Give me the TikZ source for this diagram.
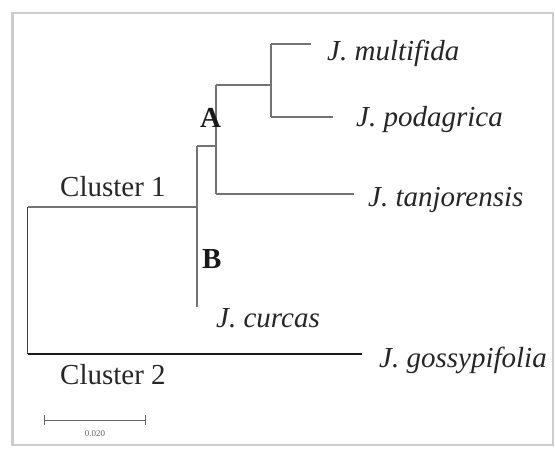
\documentclass[tikz,border=0pt]{standalone}
\usepackage{fontspec}
\setmainfont{Liberation Serif}
\begin{document}
\begin{tikzpicture}[x=1pt,y=-1pt,
  branch/.style={draw=black!55, line width=1.4pt},
  rootline/.style={draw=black!75, line width=1.6pt},
  outgroup/.style={draw=black!90, line width=2.6pt},
  species/.style={font=\fontsize{29}{32}\selectfont\itshape, text=black!85, anchor=base west, inner sep=0},
  clabel/.style={font=\fontsize{29}{32}\selectfont, text=black!85, anchor=base west, inner sep=0},
  nlabel/.style={font=\fontsize{29}{32}\selectfont\bfseries, text=black!90, anchor=base west, inner sep=0},
  scalelabel/.style={font=\fontsize{9}{10}\selectfont, text=black!60, inner sep=0}]
\useasboundingbox (0,0) rectangle (555,450);
\draw[black!20, line width=2.5pt] (12.5,13) rectangle (553,445);

% tree coordinates
\coordinate (root) at (27.5,207);
\coordinate (rootb) at (27.5,354);
\coordinate (c1) at (197,207);
\coordinate (c1top) at (197,146);
\coordinate (c1bot) at (197,307);
\coordinate (atop) at (216,85);
\coordinate (amid) at (216,146);
\coordinate (abot) at (216,194);
\coordinate (mpn) at (271,85);
\coordinate (mptop) at (271,44);
\coordinate (mpbot) at (271,117);
\coordinate (mend) at (311,44);
\coordinate (pend) at (333,117);
\coordinate (tend) at (354,194);
\coordinate (gend) at (362,354);

% branches
\draw[branch] (root) -- (c1);
\draw[branch] (c1top) -- (c1bot);
\draw[branch] (c1top) -- (amid);
\draw[branch] (atop) -- (abot);
\draw[branch] (abot) -- (tend);
\draw[branch] (atop) -- (mpn);
\draw[branch] (mptop) -- (mpbot);
\draw[branch] (mptop) -- (mend);
\draw[branch] (mpbot) -- (pend);
\draw[rootline] (root) -- (rootb);
\draw[outgroup] (rootb) -- (gend);

% labels
\node[species] (mul) at (327,60) {J. multifida};
\node[species] (pod) at (356,126) {J. podagrica};
\node[species] (tan) at (368,206) {J. tanjorensis};
\node[species] (cur) at (216,327) {J. curcas};
\node[species] (gos) at (379,367) {J. gossypifolia};
\node[clabel] (cl1) at (60,196) {Cluster 1};
\node[clabel] (cl2) at (60,384) {Cluster 2};
\node[nlabel] (la) at (200,127) {A};
\node[nlabel] (lb) at (202,268) {B};

% scale bar
\coordinate (sb1) at (44,420);
\coordinate (sb2) at (145,420);
\draw[black!60, line width=1pt] (sb1) -- (sb2);
\draw[black!60, line width=1pt] ([yshift=-5pt]sb1) -- ([yshift=5pt]sb1);
\draw[black!60, line width=1pt] ([yshift=-5pt]sb2) -- ([yshift=5pt]sb2);
\node[scalelabel] (sbl) at (95,434) {0.020};
\end{tikzpicture}
\end{document}
